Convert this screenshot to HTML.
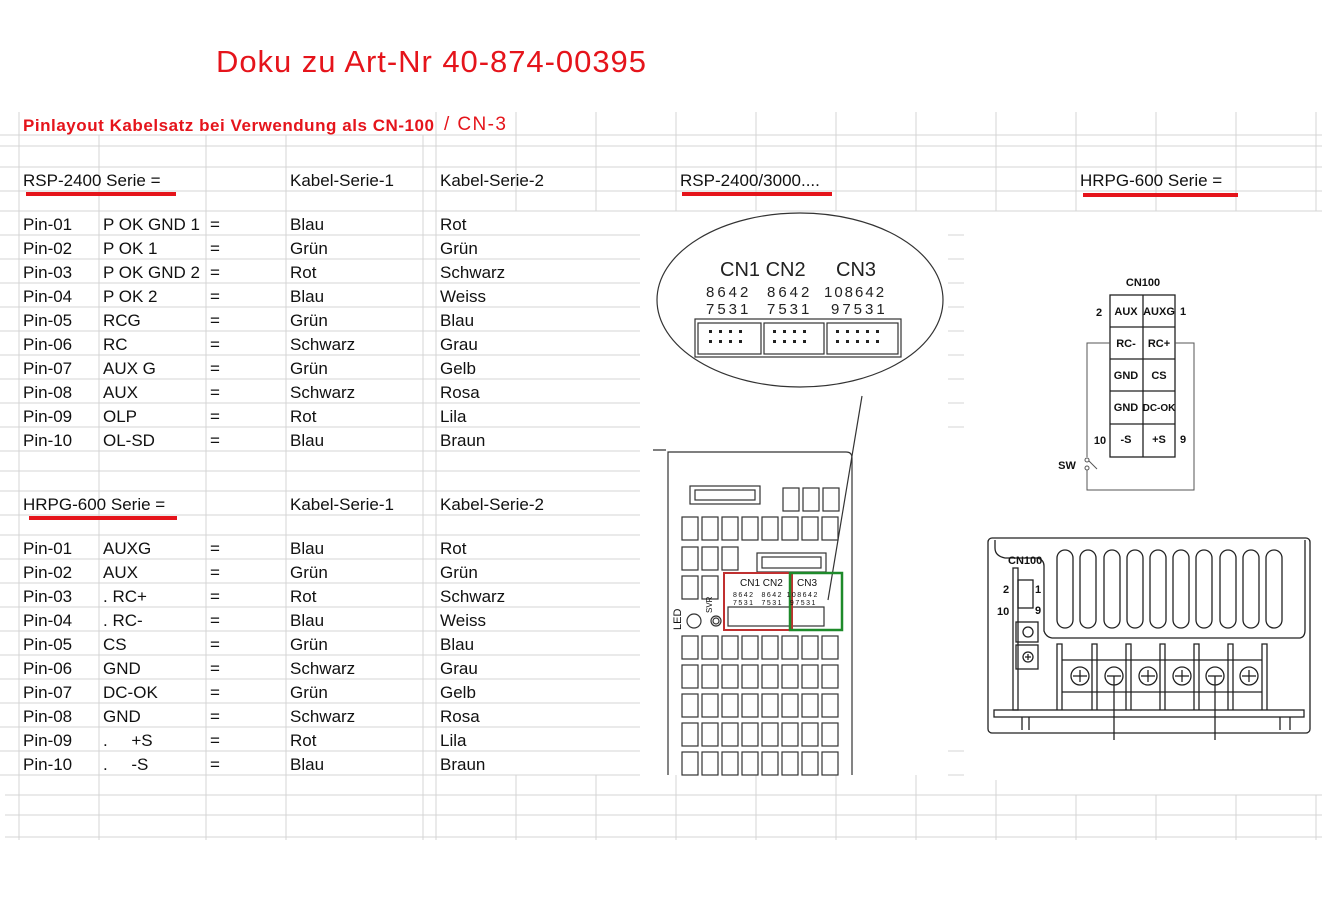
<!DOCTYPE html>
<html><head><meta charset="utf-8"><style>
body{margin:0;background:#fff;}
svg{display:block;font-family:"Liberation Sans",sans-serif;}
.t{font-size:17px;fill:#111;}
.g{stroke:#d4d4d4;stroke-width:1;}
</style></head><body>
<svg width="1322" height="923" viewBox="0 0 1322 923" xmlns="http://www.w3.org/2000/svg">
<!-- grid -->
<g class="g">
<line x1="0" y1="135" x2="1322" y2="135"/><line x1="0" y1="146" x2="1322" y2="146"/>
<line x1="0" y1="167" x2="1322" y2="167"/><line x1="0" y1="191" x2="1322" y2="191"/>
<line x1="0" y1="211" x2="1322" y2="211"/>
<line x1="0" y1="235" x2="640" y2="235"/><line x1="0" y1="259" x2="640" y2="259"/>
<line x1="0" y1="283" x2="640" y2="283"/><line x1="0" y1="307" x2="640" y2="307"/>
<line x1="0" y1="331" x2="640" y2="331"/><line x1="0" y1="355" x2="640" y2="355"/>
<line x1="0" y1="379" x2="640" y2="379"/><line x1="0" y1="403" x2="640" y2="403"/>
<line x1="0" y1="427" x2="640" y2="427"/><line x1="0" y1="451" x2="640" y2="451"/>
<line x1="0" y1="471" x2="640" y2="471"/><line x1="0" y1="491" x2="640" y2="491"/>
<line x1="0" y1="515" x2="640" y2="515"/><line x1="0" y1="535" x2="640" y2="535"/>
<line x1="0" y1="559" x2="640" y2="559"/><line x1="0" y1="583" x2="640" y2="583"/>
<line x1="0" y1="607" x2="640" y2="607"/><line x1="0" y1="631" x2="640" y2="631"/>
<line x1="0" y1="655" x2="640" y2="655"/><line x1="0" y1="679" x2="640" y2="679"/>
<line x1="0" y1="703" x2="640" y2="703"/><line x1="0" y1="727" x2="640" y2="727"/>
<line x1="0" y1="751" x2="640" y2="751"/><line x1="0" y1="775" x2="640" y2="775"/>
<line x1="5" y1="795" x2="1322" y2="795"/><line x1="5" y1="815" x2="1322" y2="815"/>
<line x1="5" y1="837" x2="1322" y2="837"/>
<line x1="19" y1="112" x2="19" y2="840"/><line x1="99" y1="135" x2="99" y2="840"/>
<line x1="206" y1="135" x2="206" y2="840"/><line x1="286" y1="135" x2="286" y2="840"/>
<line x1="423" y1="135" x2="423" y2="840"/><line x1="436" y1="112" x2="436" y2="840"/>
<line x1="516" y1="112" x2="516" y2="211"/><line x1="596" y1="112" x2="596" y2="211"/>
<line x1="516" y1="775" x2="516" y2="840"/><line x1="596" y1="775" x2="596" y2="840"/>
<line x1="676" y1="112" x2="676" y2="211"/><line x1="756" y1="112" x2="756" y2="211"/>
<line x1="836" y1="112" x2="836" y2="211"/><line x1="916" y1="112" x2="916" y2="211"/>
<line x1="996" y1="112" x2="996" y2="211"/><line x1="1076" y1="112" x2="1076" y2="211"/>
<line x1="1156" y1="112" x2="1156" y2="211"/><line x1="1236" y1="112" x2="1236" y2="211"/>
<line x1="1316" y1="112" x2="1316" y2="211"/>
<line x1="676" y1="775" x2="676" y2="840"/><line x1="756" y1="775" x2="756" y2="840"/>
<line x1="836" y1="775" x2="836" y2="840"/><line x1="916" y1="775" x2="916" y2="840"/>
<line x1="996" y1="780" x2="996" y2="840"/><line x1="1076" y1="795" x2="1076" y2="840"/>
<line x1="1156" y1="795" x2="1156" y2="840"/><line x1="1236" y1="795" x2="1236" y2="840"/>
<line x1="1316" y1="795" x2="1316" y2="840"/>
<line x1="948" y1="235" x2="964" y2="235"/><line x1="948" y1="259" x2="964" y2="259"/>
<line x1="948" y1="283" x2="964" y2="283"/><line x1="948" y1="307" x2="964" y2="307"/>
<line x1="948" y1="331" x2="964" y2="331"/><line x1="948" y1="355" x2="964" y2="355"/>
<line x1="948" y1="379" x2="964" y2="379"/><line x1="948" y1="403" x2="964" y2="403"/>
<line x1="948" y1="427" x2="964" y2="427"/><line x1="948" y1="751" x2="964" y2="751"/>
<line x1="948" y1="775" x2="964" y2="775"/>
</g>
<!-- titles -->
<text x="216" y="72" font-size="31" fill="#e5141b" textLength="430" lengthAdjust="spacing">Doku zu Art-Nr 40-874-00395</text>
<text x="23" y="131" font-size="17" font-weight="bold" fill="#e5141b" textLength="411" lengthAdjust="spacing">Pinlayout  Kabelsatz bei Verwendung als CN-100</text>
<text x="444" y="130" font-size="19" fill="#e5141b" textLength="62" lengthAdjust="spacing">/ CN-3</text>
<g class="t">
<text x="23" y="186">RSP-2400 Serie =</text>
<text x="290" y="186">Kabel-Serie-1</text><text x="440" y="186">Kabel-Serie-2</text>
<text x="680" y="186">RSP-2400/3000....</text>
<text x="1080" y="186">HRPG-600 Serie =</text>
</g>
<rect x="26" y="192" width="150" height="4" fill="#e5141b"/>
<rect x="682" y="192" width="150" height="4" fill="#e5141b"/>
<rect x="1083" y="193" width="155" height="4" fill="#e5141b"/>
<g class="t">
<text x="23" y="230">Pin-01</text><text x="103" y="230">P OK GND 1</text><text x="210" y="230">=</text><text x="290" y="230">Blau</text><text x="440" y="230">Rot</text>
<text x="23" y="254">Pin-02</text><text x="103" y="254">P OK 1</text><text x="210" y="254">=</text><text x="290" y="254">Grün</text><text x="440" y="254">Grün</text>
<text x="23" y="278">Pin-03</text><text x="103" y="278">P OK GND 2</text><text x="210" y="278">=</text><text x="290" y="278">Rot</text><text x="440" y="278">Schwarz</text>
<text x="23" y="302">Pin-04</text><text x="103" y="302">P OK 2</text><text x="210" y="302">=</text><text x="290" y="302">Blau</text><text x="440" y="302">Weiss</text>
<text x="23" y="326">Pin-05</text><text x="103" y="326">RCG</text><text x="210" y="326">=</text><text x="290" y="326">Grün</text><text x="440" y="326">Blau</text>
<text x="23" y="350">Pin-06</text><text x="103" y="350">RC</text><text x="210" y="350">=</text><text x="290" y="350">Schwarz</text><text x="440" y="350">Grau</text>
<text x="23" y="374">Pin-07</text><text x="103" y="374">AUX G</text><text x="210" y="374">=</text><text x="290" y="374">Grün</text><text x="440" y="374">Gelb</text>
<text x="23" y="398">Pin-08</text><text x="103" y="398">AUX</text><text x="210" y="398">=</text><text x="290" y="398">Schwarz</text><text x="440" y="398">Rosa</text>
<text x="23" y="422">Pin-09</text><text x="103" y="422">OLP</text><text x="210" y="422">=</text><text x="290" y="422">Rot</text><text x="440" y="422">Lila</text>
<text x="23" y="446">Pin-10</text><text x="103" y="446">OL-SD</text><text x="210" y="446">=</text><text x="290" y="446">Blau</text><text x="440" y="446">Braun</text>
<text x="23" y="510">HRPG-600 Serie =</text><text x="290" y="510">Kabel-Serie-1</text><text x="440" y="510">Kabel-Serie-2</text>
<text x="23" y="554">Pin-01</text><text x="103" y="554">AUXG</text><text x="210" y="554">=</text><text x="290" y="554">Blau</text><text x="440" y="554">Rot</text>
<text x="23" y="578">Pin-02</text><text x="103" y="578">AUX</text><text x="210" y="578">=</text><text x="290" y="578">Grün</text><text x="440" y="578">Grün</text>
<text x="23" y="602">Pin-03</text><text x="103" y="602">.   RC+</text><text x="210" y="602">=</text><text x="290" y="602">Rot</text><text x="440" y="602">Schwarz</text>
<text x="23" y="626">Pin-04</text><text x="103" y="626">.   RC-</text><text x="210" y="626">=</text><text x="290" y="626">Blau</text><text x="440" y="626">Weiss</text>
<text x="23" y="650">Pin-05</text><text x="103" y="650">CS</text><text x="210" y="650">=</text><text x="290" y="650">Grün</text><text x="440" y="650">Blau</text>
<text x="23" y="674">Pin-06</text><text x="103" y="674">GND</text><text x="210" y="674">=</text><text x="290" y="674">Schwarz</text><text x="440" y="674">Grau</text>
<text x="23" y="698">Pin-07</text><text x="103" y="698">DC-OK</text><text x="210" y="698">=</text><text x="290" y="698">Grün</text><text x="440" y="698">Gelb</text>
<text x="23" y="722">Pin-08</text><text x="103" y="722">GND</text><text x="210" y="722">=</text><text x="290" y="722">Schwarz</text><text x="440" y="722">Rosa</text>
<text x="23" y="746">Pin-09</text><text x="103" y="746" xml:space="preserve">.     +S</text><text x="210" y="746">=</text><text x="290" y="746">Rot</text><text x="440" y="746">Lila</text>
<text x="23" y="770">Pin-10</text><text x="103" y="770" xml:space="preserve">.     -S</text><text x="210" y="770">=</text><text x="290" y="770">Blau</text><text x="440" y="770">Braun</text>
</g>
<rect x="29" y="516" width="148" height="4" fill="#e5141b"/>

<!-- ellipse zoom -->
<g fill="none" stroke="#333" stroke-width="1.2">
<ellipse cx="800" cy="300" rx="143" ry="87"/>
<line x1="862" y1="396" x2="828" y2="600"/>
<rect x="695" y="319" width="206" height="38"/>
<rect x="698" y="323" width="63" height="31"/><rect x="764" y="323" width="60" height="31"/><rect x="827" y="323" width="71" height="31"/>
</g>
<g fill="#222">
<text x="720" y="276" font-size="20">CN1 CN2</text><text x="836" y="276" font-size="20">CN3</text>
<text x="706" y="297" font-size="15" letter-spacing="3">8642</text><text x="767" y="297" font-size="15" letter-spacing="3">8642</text><text x="824" y="297" font-size="15" letter-spacing="2">108642</text>
<text x="706" y="314" font-size="15" letter-spacing="3">7531</text><text x="767" y="314" font-size="15" letter-spacing="3">7531</text><text x="831" y="314" font-size="15" letter-spacing="3">97531</text>
</g>
<g fill="#222">
<rect x="709" y="330" width="3" height="3"/><rect x="719" y="330" width="3" height="3"/><rect x="729" y="330" width="3" height="3"/><rect x="739" y="330" width="3" height="3"/>
<rect x="709" y="340" width="3" height="3"/><rect x="719" y="340" width="3" height="3"/><rect x="729" y="340" width="3" height="3"/><rect x="739" y="340" width="3" height="3"/>
<rect x="773" y="330" width="3" height="3"/><rect x="783" y="330" width="3" height="3"/><rect x="793" y="330" width="3" height="3"/><rect x="803" y="330" width="3" height="3"/>
<rect x="773" y="340" width="3" height="3"/><rect x="783" y="340" width="3" height="3"/><rect x="793" y="340" width="3" height="3"/><rect x="803" y="340" width="3" height="3"/>
<rect x="836" y="330" width="3" height="3"/><rect x="846" y="330" width="3" height="3"/><rect x="856" y="330" width="3" height="3"/><rect x="866" y="330" width="3" height="3"/><rect x="876" y="330" width="3" height="3"/>
<rect x="836" y="340" width="3" height="3"/><rect x="846" y="340" width="3" height="3"/><rect x="856" y="340" width="3" height="3"/><rect x="866" y="340" width="3" height="3"/><rect x="876" y="340" width="3" height="3"/>
</g>

<!-- PSU front -->
<g fill="none" stroke="#333" stroke-width="1.2">
<path d="M653 450 H666 M668 775 V452 H846 Q852 452 852 458 V775"/>
<rect x="690" y="486" width="70" height="18"/><rect x="695" y="490" width="60" height="10"/>
<rect x="783" y="488" width="16" height="23"/><rect x="803" y="488" width="16" height="23"/><rect x="823" y="488" width="16" height="23"/>
<rect x="757" y="553" width="69" height="19"/><rect x="762" y="557" width="59" height="11"/>
<rect x="682" y="517" width="16" height="23"/><rect x="702" y="517" width="16" height="23"/><rect x="722" y="517" width="16" height="23"/><rect x="742" y="517" width="16" height="23"/><rect x="762" y="517" width="16" height="23"/><rect x="782" y="517" width="16" height="23"/><rect x="802" y="517" width="16" height="23"/><rect x="822" y="517" width="16" height="23"/>
<rect x="682" y="547" width="16" height="23"/><rect x="702" y="547" width="16" height="23"/><rect x="722" y="547" width="16" height="23"/>
<rect x="682" y="576" width="16" height="23"/><rect x="702" y="576" width="16" height="23"/>
<rect x="728" y="607" width="96" height="19"/>
<circle cx="694" cy="621" r="7"/><circle cx="716" cy="621" r="5"/><circle cx="716" cy="621" r="3"/>
</g>
<g fill="none" stroke="#333" stroke-width="1.2">
<g id="r1"><rect x="682" y="636" width="16" height="23"/><rect x="702" y="636" width="16" height="23"/><rect x="722" y="636" width="16" height="23"/><rect x="742" y="636" width="16" height="23"/><rect x="762" y="636" width="16" height="23"/><rect x="782" y="636" width="16" height="23"/><rect x="802" y="636" width="16" height="23"/><rect x="822" y="636" width="16" height="23"/></g>
<use href="#r1" y="29"/><use href="#r1" y="58"/><use href="#r1" y="87"/><use href="#r1" y="116"/>
</g>
<rect x="724" y="573" width="68" height="57" fill="none" stroke="#c03030" stroke-width="2"/>
<rect x="790" y="573" width="52" height="57" fill="none" stroke="#1e8a2a" stroke-width="2.5"/>
<g fill="#111" font-size="10">
<text x="740" y="586">CN1 CN2</text><text x="797" y="586">CN3</text>
<text x="733" y="597" font-size="7" letter-spacing="1.5" xml:space="preserve">8642  8642 108642</text>
<text x="733" y="605" font-size="7" letter-spacing="1.5" xml:space="preserve">7531  7531  97531</text>
<text x="681" y="630" font-size="11" transform="rotate(-90 681 630)">LED</text>
<text x="712" y="613" font-size="8" transform="rotate(-90 712 613)">SVR</text>
</g>

<!-- CN100 table -->
<g fill="none" stroke="#222" stroke-width="1.3">
<rect x="1110" y="295" width="65" height="162"/>
<line x1="1143" y1="295" x2="1143" y2="457"/>
<line x1="1110" y1="327" x2="1175" y2="327"/><line x1="1110" y1="359" x2="1175" y2="359"/>
<line x1="1110" y1="391" x2="1175" y2="391"/><line x1="1110" y1="424" x2="1175" y2="424"/>
</g>
<g fill="none" stroke="#555" stroke-width="1">
<path d="M1110 343 H1087 V457"/><path d="M1087 470 V490 H1194 V343 H1175"/>
<circle cx="1087" cy="460" r="2"/><circle cx="1087" cy="468" r="2"/><line x1="1089" y1="461" x2="1097" y2="469"/>
</g>
<g fill="#111" font-size="11" font-weight="bold" text-anchor="middle">
<text x="1143" y="286">CN100</text>
<text x="1126" y="315">AUX</text><text x="1159" y="315">AUXG</text>
<text x="1126" y="347">RC-</text><text x="1159" y="347">RC+</text>
<text x="1126" y="379">GND</text><text x="1159" y="379">CS</text>
<text x="1126" y="411">GND</text><text x="1159" y="411" font-size="10">DC-OK</text>
<text x="1126" y="443">-S</text><text x="1159" y="443">+S</text>
<text x="1099" y="316">2</text><text x="1183" y="315">1</text>
<text x="1100" y="444">10</text><text x="1183" y="443">9</text>
<text x="1067" y="469">SW</text>
</g>

<!-- HRPG bottom -->
<g fill="none" stroke="#222" stroke-width="1.3">
<rect x="988" y="538" width="322" height="195" rx="4"/>
<path d="M995 540 V548 Q995 556 1005 558 H1038 Q1044 560 1044 566 V631 Q1046 637 1052 638 H1300 Q1305 637 1305 630 V540"/>
<rect x="1057" y="550" width="16" height="78" rx="8"/><rect x="1080" y="550" width="16" height="78" rx="8"/><rect x="1104" y="550" width="16" height="78" rx="8"/><rect x="1127" y="550" width="16" height="78" rx="8"/><rect x="1150" y="550" width="16" height="78" rx="8"/><rect x="1173" y="550" width="16" height="78" rx="8"/><rect x="1196" y="550" width="16" height="78" rx="8"/><rect x="1220" y="550" width="16" height="78" rx="8"/><rect x="1243" y="550" width="16" height="78" rx="8"/><rect x="1266" y="550" width="16" height="78" rx="8"/>
<rect x="1013" y="568" width="5" height="142"/>
<rect x="1018" y="580" width="15" height="28"/>
<rect x="1016" y="622" width="22" height="20"/><circle cx="1028" cy="632" r="5"/>
<rect x="1016" y="645" width="22" height="24"/><circle cx="1028" cy="657" r="5"/>
<path d="M1057 710 V644 H1062 V710 M1092 710 V644 H1097 V710 M1126 710 V644 H1131 V710 M1160 710 V644 H1165 V710 M1194 710 V644 H1199 V710 M1228 710 V644 H1233 V710 M1262 710 V644 H1267 V710"/>
<line x1="1062" y1="660" x2="1262" y2="660"/><line x1="1062" y1="692" x2="1262" y2="692"/>
<circle cx="1080" cy="676" r="9"/><circle cx="1114" cy="676" r="9"/><circle cx="1148" cy="676" r="9"/><circle cx="1182" cy="676" r="9"/><circle cx="1215" cy="676" r="9"/><circle cx="1249" cy="676" r="9"/>
<rect x="994" y="710" width="310" height="7"/>
<line x1="1022" y1="717" x2="1022" y2="730"/><line x1="1029" y1="717" x2="1029" y2="730"/>
<line x1="1280" y1="717" x2="1280" y2="730"/><line x1="1290" y1="717" x2="1290" y2="730"/>
<line x1="1114" y1="676" x2="1114" y2="740"/><line x1="1215" y1="676" x2="1215" y2="740"/>
</g>
<g stroke="#222" stroke-width="1.3">
<line x1="1073" y1="676" x2="1087" y2="676"/><line x1="1107" y1="676" x2="1121" y2="676"/><line x1="1141" y1="676" x2="1155" y2="676"/><line x1="1175" y1="676" x2="1189" y2="676"/><line x1="1208" y1="676" x2="1222" y2="676"/><line x1="1242" y1="676" x2="1256" y2="676"/>
<line x1="1080" y1="670" x2="1080" y2="682"/><line x1="1148" y1="670" x2="1148" y2="682"/><line x1="1182" y1="670" x2="1182" y2="682"/><line x1="1249" y1="670" x2="1249" y2="682"/>
<line x1="1028" y1="654" x2="1028" y2="660"/><line x1="1025" y1="657" x2="1031" y2="657"/>
</g>
<g fill="#111" font-size="11" font-weight="bold">
<text x="1008" y="564">CN100</text>
<text x="1003" y="593">2</text><text x="1035" y="593">1</text>
<text x="997" y="615">10</text><text x="1035" y="614">9</text>
</g>
</svg>
</body></html>
